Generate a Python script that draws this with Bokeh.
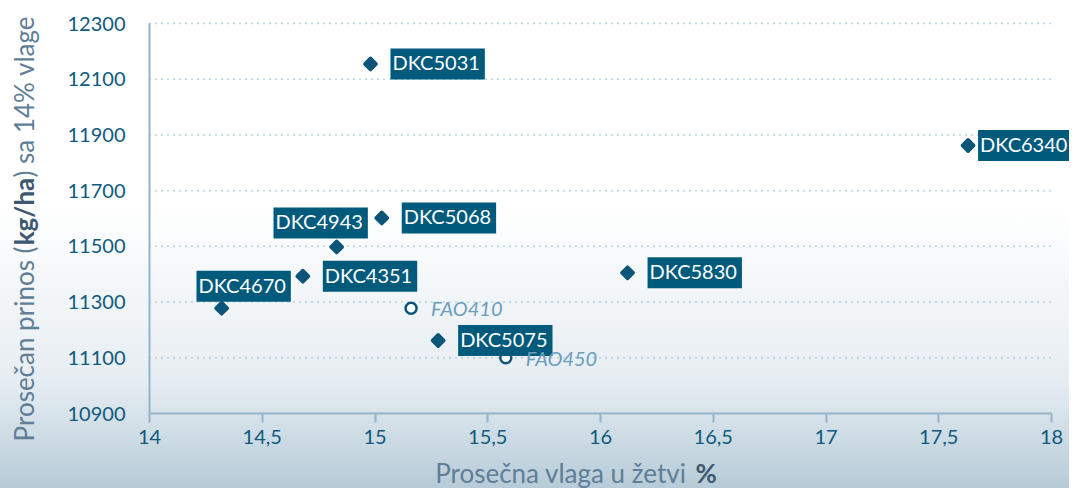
from bokeh.plotting import figure
from bokeh.models import Range1d, FixedTicker, Label
from bokeh.embed import file_html
from bokeh.resources import INLINE
import math

# ---- data ----
hybrids = ["DKC5031", "DKC6340", "DKC5068", "DKC4943", "DKC4351", "DKC4670", "DKC5075", "DKC5830"]
moisture = [14.98, 17.63, 15.03, 14.83, 14.68, 14.32, 15.28, 16.12]
yields = [12155, 11862, 11602, 11498, 11393, 11278, 11162, 11405]

checks = ["FAO410", "FAO450"]
check_moisture = [15.16, 15.58]
check_yields = [11278, 11100]

x_ticks = [14, 14.5, 15, 15.5, 16, 16.5, 17, 17.5, 18]
x_tick_labels = ["14", "14,5", "15", "15,5", "16", "16,5", "17", "17,5", "18"]
y_ticks = [10900, 11100, 11300, 11500, 11700, 11900, 12100, 12300]
y_tick_labels = ["10900", "11100", "11300", "11500", "11700", "11900", "12100", "12300"]

# ---- layout / style ----
W, H = 1069, 488
FL, FR, FT, FB = 149, 1051, 23, 413          # plotting area in canvas px
X0, X1 = x_ticks[0], x_ticks[-1]
Y0, Y1 = y_ticks[0], y_ticks[-1]
kx = (FR - FL) / (X1 - X0)
ky = (FB - FT) / (Y1 - Y0)
x_range = Range1d(X0 - FL / kx, X1 + (W - FR) / kx)
y_range = Range1d(Y0 - (H - FB) / ky, Y1 + FT / ky)

label_align = ["left", "left", "left", "center", "left", "center", "left", "left"]
label_dx = [20, 10, 20, -16, 20, 22, 20, 20]
label_dy = [0, 0, 0, 24, 0, 22, 0, 0]

FONT = "Lato"
DARK = "#0b5579"
BOX = "#005a7c"
TICK = "#0e5a80"
AXIS = "#93b4c9"
REG = "#5f7e97"
BLD = "#3e5870"
TITLE_SIZE = "26px"

p = figure(width=W, height=H, output_backend="svg", toolbar_location=None,
           x_range=x_range, y_range=y_range, min_border=0)
p.styles = {"background": "linear-gradient(180deg, #ffffff 0%, #ffffff 42%, #e6edf2 78%, #b6cbd7 100%)"}
p.background_fill_alpha = 0
p.border_fill_alpha = 0
p.outline_line_color = None
p.grid.visible = False

# axes at fixed positions inside the canvas
xa, ya = p.xaxis[0], p.yaxis[0]
xa.fixed_location = Y0
ya.fixed_location = X0
xa.bounds = (X0, X1)
ya.bounds = (Y0, Y1)
xa.ticker = FixedTicker(ticks=x_ticks)
xa.major_label_overrides = dict(zip(x_ticks, x_tick_labels))
ya.ticker = FixedTicker(ticks=y_ticks)
ya.major_label_overrides = dict(zip(y_ticks, y_tick_labels))
for ax in (xa, ya):
    ax.axis_line_color = AXIS
    ax.axis_line_width = 2
    ax.minor_tick_line_color = None
    ax.major_label_text_font = FONT
    ax.major_label_text_font_size = "20px"
    ax.major_label_text_color = TICK
xa.major_tick_line_color = AXIS
xa.major_tick_line_width = 2
xa.major_tick_out = 9
xa.major_tick_in = 0
xa.major_label_standoff = 7
ya.major_tick_line_color = None
ya.major_tick_out = 0
ya.major_tick_in = 0
ya.major_label_standoff = 24

# horizontal dotted grid lines at the y ticks (between the axis bounds)
grid_y = y_ticks[1:]
p.segment(x0=[X0] * len(grid_y), x1=[X1] * len(grid_y), y0=grid_y, y1=grid_y,
          line_color="#7fadc9", line_width=1.5, line_dash="1 5", level="underlay")

# markers
p.scatter(moisture, yields, marker="square", angle=math.pi / 4, size=8,
          fill_color=DARK, line_color=DARK, line_width=3.5, line_join="round")
p.scatter(check_moisture, check_yields, marker="circle", size=11,
          fill_color="white", line_color=DARK, line_width=2.5)

# hybrid labels
for i, name in enumerate(hybrids):
    p.add_layout(Label(x=moisture[i], y=yields[i], text=name,
                       x_offset=label_dx[i], y_offset=label_dy[i],
                       text_align=label_align[i], text_baseline="middle",
                       text_font=FONT, text_font_size="20px", text_color="white",
                       background_fill_color=BOX, padding=(2, 5, 2, 5)))
for i, name in enumerate(checks):
    p.add_layout(Label(x=check_moisture[i], y=check_yields[i], text=name,
                       x_offset=20, text_align="left", text_baseline="middle",
                       text_font=FONT, text_font_style="italic", text_font_size="20px",
                       text_color="#6b9dbd"))

# axis titles (mixed weight), screen units measured from the bottom-left corner
xty = H - 472
p.add_layout(Label(x=686, y=xty, x_units="screen", y_units="screen",
                   text="Prosečna vlaga u žetvi", text_align="right", text_baseline="middle",
                   text_font=FONT, text_font_size=TITLE_SIZE, text_color=REG))
p.add_layout(Label(x=695, y=xty, x_units="screen", y_units="screen",
                   text="%", text_align="left", text_baseline="middle",
                   text_font=FONT, text_font_size=TITLE_SIZE, text_font_style="bold", text_color=BLD))

ylx = 23
p.add_layout(Label(x=ylx, y=H - 246, x_units="screen", y_units="screen", angle=math.pi / 2,
                   text="Prosečan prinos (", text_align="right", text_baseline="middle",
                   text_font=FONT, text_font_size=TITLE_SIZE, text_color=REG))
p.add_layout(Label(x=ylx, y=H - 211, x_units="screen", y_units="screen", angle=math.pi / 2,
                   text="kg/ha", text_align="center", text_baseline="middle",
                   text_font=FONT, text_font_size=TITLE_SIZE, text_font_style="bold", text_color=BLD))
p.add_layout(Label(x=ylx, y=H - 177, x_units="screen", y_units="screen", angle=math.pi / 2,
                   text=") sa 14% vlage", text_align="left", text_baseline="middle",
                   text_font=FONT, text_font_size=TITLE_SIZE, text_color=REG))

open("out.html", "w").write(file_html(p, INLINE))
